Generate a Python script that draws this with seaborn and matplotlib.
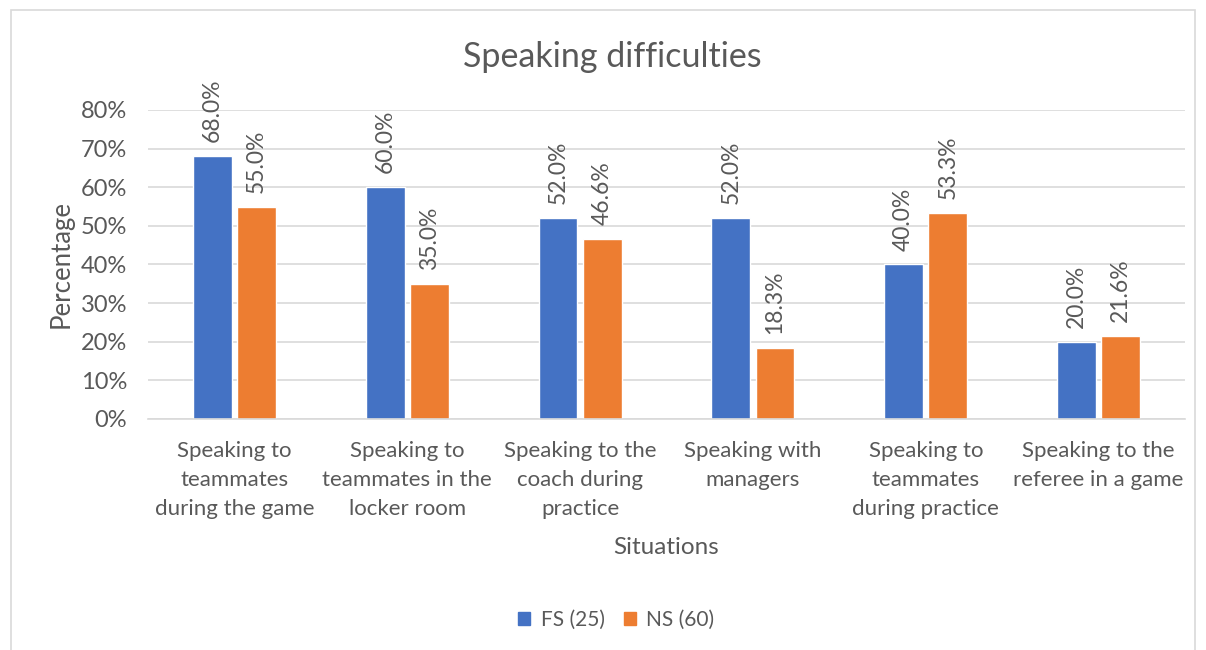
import pandas as pd
import matplotlib
matplotlib.use('Agg')
from matplotlib import pyplot as plt
from matplotlib.patches import Rectangle, Patch
from matplotlib.ticker import FuncFormatter
import seaborn as sns

situations = ['Speaking to\nteammates\nduring the game',
              'Speaking to\nteammates in the\nlocker room',
              'Speaking to the\ncoach during\npractice',
              'Speaking with\nmanagers',
              'Speaking to\nteammates\nduring practice',
              'Speaking to the\nreferee in a game']
fs_values = [68.0, 60.0, 52.0, 52.0, 40.0, 20.0]
ns_values = [55.0, 35.0, 46.6, 18.3, 53.3, 21.6]
groups = ['FS (25)', 'NS (60)']
colors = ['#4472C4', '#ED7D31']

df = pd.DataFrame({
    'Situations': situations * 2,
    'Percentage': fs_values + ns_values,
    'Group': [groups[0]] * 6 + [groups[1]] * 6,
})

sns.set_style('white')
plt.rcParams['font.family'] = ['Lato', 'DejaVu Sans']
txt = '#595959'

fig = plt.figure(figsize=(12.06, 6.5), dpi=100)
ax = fig.add_axes([0.1227, 0.3554, 0.8599, 0.4754])

sns.barplot(data=df, x='Situations', y='Percentage', hue='Group',
            palette=colors, width=0.51, gap=0.12, saturation=1,
            legend=False, ax=ax)

for cont in ax.containers:
    ax.bar_label(cont, labels=[f'{v:.1f}%' for v in cont.datavalues],
                 rotation=90, padding=10, fontsize=16.5, color=txt)

ax.set_ylim(0, 80)
ax.set_xlim(-0.5, 5.5)
ax.set_yticks(range(0, 81, 10))
ax.yaxis.set_major_formatter(FuncFormatter(lambda v, p: f'{v:.0f}%'))
ax.grid(axis='y', color='#D9D9D9', linewidth=1.2)
ax.set_axisbelow(True)
for s in ['top', 'right', 'left']:
    ax.spines[s].set_visible(False)
ax.spines['bottom'].set_color('#D9D9D9')
ax.spines['bottom'].set_linewidth(1.2)
ax.tick_params(axis='y', length=0, labelsize=17, colors=txt, pad=15)
ax.tick_params(axis='x', length=0, labelsize=16, colors=txt, pad=16)
for lbl in ax.get_xticklabels():
    lbl.set_linespacing(1.55)

ax.set_xlabel('Situations', fontsize=17.5, color=txt, labelpad=13)
ax.set_ylabel('Percentage', fontsize=18.5, color=txt, labelpad=5)
fig.text(0.5075, 0.912, 'Speaking difficulties', ha='center', va='center',
         fontsize=24.5, color=txt)

handles = [Patch(color=c, label=g) for c, g in zip(colors, groups)]
fig.legend(handles=handles, loc='center', bbox_to_anchor=(0.511, 0.046),
           ncol=2, frameon=False, fontsize=15, handlelength=0.6,
           handleheight=0.6, columnspacing=0.9, handletextpad=0.5,
           labelcolor=txt)

fig.patches.append(Rectangle((0.009, -0.01), 0.982, 0.995, transform=fig.transFigure,
                             fill=False, edgecolor='#D9D9D9', linewidth=1.2))

fig.savefig('out.png', dpi=100)
